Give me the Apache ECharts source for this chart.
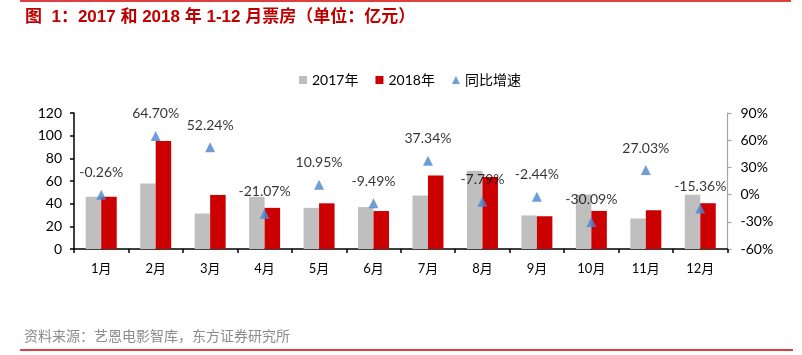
<!DOCTYPE html>
<html><head><meta charset="utf-8">
<script src="https://cdn.jsdelivr.net/npm/echarts@6/dist/echarts.min.js"></script>
<style>html,body{margin:0;padding:0;background:#fff}#c{width:802px;height:355px}</style>
</head><body><div id="c"></div>
<script>
const categories = ['1月','2月','3月','4月','5月','6月','7月','8月','9月','10月','11月','12月'];
const box2017 = [46.2, 57.8, 31.3, 46.0, 36.3, 37.0, 47.2, 69.0, 29.6, 48.1, 26.9, 47.8];
const box2018 = [46.1, 95.2, 47.7, 36.3, 40.3, 33.5, 64.8, 63.6, 28.9, 33.6, 34.2, 40.4];
const growth = [-0.26, 64.70, 52.24, -21.07, 10.95, -9.49, 37.34, -7.79, -2.44, -30.09, 27.03, -15.36];
const seriesNames = ['2017年', '2018年', '同比增速'];
const leftAxisRange = [0, 120, 20];
const rightAxisRange = [-60, 90, 30];
const titleText = '图  1：2017 和 2018 年 1-12 月票房（单位：亿元）';
const sourceText = '资料来源：艺恩电影智库，东方证券研究所';

const FONT = 'Lato, "Noto Sans CJK SC", sans-serif';
const chart = echarts.init(document.getElementById('c'), null, {renderer: 'canvas'});
chart.setOption({
  animation: false,
  backgroundColor: '#fff',
  textStyle: {fontFamily: FONT},
  graphic: [
    {type: 'line', shape: {x1: 20, y1: 1, x2: 791, y2: 1}, style: {stroke: '#D00000', lineWidth: 1.5}},
    {type: 'line', shape: {x1: 20, y1: 350, x2: 793, y2: 350}, style: {stroke: '#D00000', lineWidth: 1.5}},
    {type: 'text', left: 25, top: 9, style: {text: titleText, fill: '#C00000', font: 'bold 17px "Liberation Sans", "Noto Sans CJK SC", sans-serif'}},
    {type: 'text', left: 24, top: 329, style: {text: sourceText, fill: '#8C8C8C', font: '14px "Noto Sans CJK SC", sans-serif'}}
  ],
  legend: {
    left: 294, top: 68,
    itemWidth: 8, itemHeight: 8, itemGap: 17,
    textStyle: {fontSize: 14, color: '#000', fontFamily: FONT},
    data: [
      {name: seriesNames[0], icon: 'rect'},
      {name: seriesNames[1], icon: 'rect'},
      {name: seriesNames[2], icon: 'triangle'}
    ]
  },
  grid: {left: 74, right: 74.5, top: 113, bottom: 106, containLabel: false},
  xAxis: {
    type: 'category', data: categories, boundaryGap: true,
    axisLine: {lineStyle: {color: '#000', width: 1.5}},
    axisTick: {show: true, length: 4, inside: false, lineStyle: {color: '#000', width: 1.5}},
    axisLabel: {color: '#000', fontSize: 13, margin: 13, fontFamily: FONT}
  },
  yAxis: [
    {
      type: 'value', min: leftAxisRange[0], max: leftAxisRange[1], interval: leftAxisRange[2],
      axisLine: {show: true, lineStyle: {color: '#000', width: 1.5}},
      axisTick: {show: true, length: 4, lineStyle: {color: '#000', width: 1.5}},
      axisLabel: {color: '#000', fontSize: 14, margin: 12, fontFamily: FONT},
      splitLine: {show: false}
    },
    {
      type: 'value', min: rightAxisRange[0], max: rightAxisRange[1], interval: rightAxisRange[2],
      position: 'right',
      axisLine: {show: true, lineStyle: {color: '#A6A6A6', width: 1.2}},
      axisTick: {show: true, length: 4, lineStyle: {color: '#A6A6A6', width: 1.2}},
      axisLabel: {color: '#000', fontSize: 14, margin: 13, formatter: '{value}%', fontFamily: FONT},
      splitLine: {show: false}
    }
  ],
  series: [
    {name: seriesNames[0], type: 'bar', data: box2017, barWidth: 15.5, barGap: '0%',
     itemStyle: {color: '#BFBFBF'}},
    {name: seriesNames[1], type: 'bar', data: box2018, barWidth: 15.5, barGap: '0%',
     itemStyle: {color: '#CC0000'}},
    {name: seriesNames[2], type: 'scatter', yAxisIndex: 1, data: growth,
     symbol: 'triangle', symbolSize: 10, z: 5,
     itemStyle: {color: '#4A86D0'},
     label: {show: true, position: 'top', distance: 10, color: '#000', fontSize: 14, fontFamily: FONT,
       formatter: p => p.value.toFixed(2) + '%'}}
  ]
});
</script></body></html>
